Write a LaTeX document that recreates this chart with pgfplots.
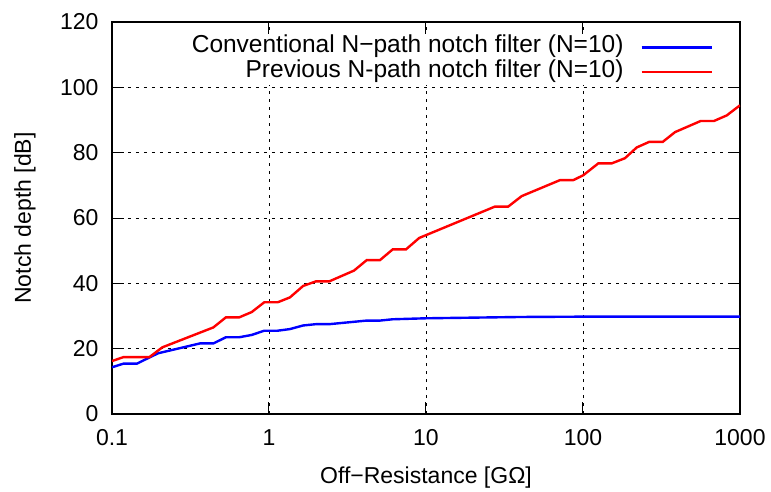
\documentclass[border=0pt]{standalone}
\usepackage{fontspec}
\setmainfont{Liberation Sans}
\usepackage{pgfplots}
\pgfplotsset{compat=1.18}
\begin{document}
\begin{tikzpicture}
\begin{axis}[
  scale only axis, width=628pt, height=392pt,
  xmode=log, log basis x=10,
  xmin=0.1, xmax=1000, ymin=0, ymax=120,
  ytick={0,20,40,60,80,100,120},
  xtick={0.1,1,10,100,1000}, xticklabels={0.1,1,10,100,1000},
  tick align=inside, major tick length=12pt, minor tick length=6pt,
  every tick/.style={black, line width=1pt},
  grid=major,
  major grid style={black, line width=0.8pt, dash pattern=on 3pt off 5pt},
  axis line style={line width=1.6pt},
  font=\fontsize{23}{27}\selectfont,
  /pgf/number format/assume math mode=true,
  xlabel={Off−Resistance [GΩ]},
  ylabel={Notch depth [dB]},
  xlabel style={at={(axis description cs:0.5,-0.163)}, anchor=center},
  ylabel style={at={(axis description cs:-0.1385,0.5)}, anchor=center},
  xticklabel style={yshift=-12pt},
  yticklabel style={xshift=-10pt},
  legend plot pos=right,
  legend cell align=right,
  legend style={draw=none, fill=white, at={(axis description cs:0.962,0.97)}, anchor=north east,
    font=\fontsize{24.5}{28}\selectfont, row sep=1.5pt, column sep=16pt,
    nodes={inner sep=1pt, text height=16pt, text depth=5pt}},
  legend image code/.code={\draw[#1] (0pt,0pt) -- (70pt,0pt);},
]
\addplot[blue, line width=2.4pt] coordinates {
(0.1,14.3) (0.118,15.4) (0.144,15.4) (0.173,17.3) (0.197,18.6) (0.363,21.6) (0.442,21.6)
(0.532,23.5) (0.647,23.5) (0.776,24.2) (0.933,25.5) (1.136,25.5) (1.36,26.0) (1.65,27.1)
(1.99,27.5) (2.42,27.5) (4.19,28.6) (5.09,28.6) (6.14,29.0) (10,29.3) (20,29.5) (40,29.7)
(100,29.8) (1000,29.8)};
\addlegendentry{Conventional N−path notch filter (N=10)}
\addplot[red, line width=2.4pt] coordinates {
(0.1,16.2) (0.118,17.4) (0.173,17.4) (0.209,20.4) (0.442,26.5) (0.532,29.6) (0.647,29.6)
(0.776,31.2) (0.933,34.2) (1.136,34.2) (1.36,35.7) (1.65,39.2) (1.99,40.6) (2.42,40.6)
(3.48,43.9) (4.19,47.1) (5.09,47.1) (6.14,50.4) (7.46,50.4) (9.06,53.9) (27.5,63.5)
(33.4,63.5) (40.7,66.7) (71.4,71.6) (86.8,71.6) (100.5,73.1) (125,76.7) (152,76.7)
(185,78.3) (220,81.6) (264,83.3) (322,83.3) (386,86.3) (562,89.7) (683,89.7) (823,91.4)
(1000,94.5)};
\addlegendentry{Previous N-path notch filter (N=10)}
\end{axis}
\path ([xshift=-112pt,yshift=-76pt]current axis.south west) rectangle ([xshift=31pt,yshift=22pt]current axis.north east);
\end{tikzpicture}
\end{document}
